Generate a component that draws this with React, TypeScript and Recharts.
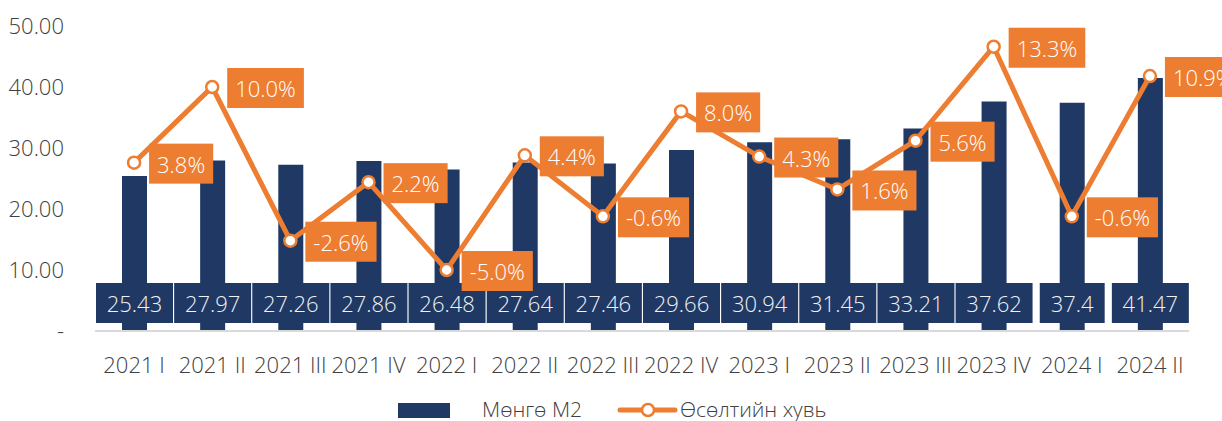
import { ComposedChart, Bar, Line, XAxis, YAxis, LabelList } from 'recharts'

const quarters = [
  '2021 I', '2021 II', '2021 III', '2021 IV',
  '2022 I', '2022 II', '2022 III', '2022 IV',
  '2023 I', '2023 II', '2023 III', '2023 IV',
  '2024 I', '2024 II',
]
const moneyM2 = [25.43, 27.97, 27.26, 27.86, 26.48, 27.64, 27.46, 29.66, 30.94, 31.45, 33.21, 37.62, 37.4, 41.47]
const growthPct = [3.8, 10.0, -2.6, 2.2, -5.0, 4.4, -0.6, 8.0, 4.3, 1.6, 5.6, 13.3, -0.6, 10.9]
const leftTicks = [0, 10, 20, 30, 40, 50]

const NAVY = '#203864'
const ORANGE = '#ED7D31'
const FONT = "'Open Sans', 'Noto Sans', sans-serif"
const FS = 22

const data = quarters.map((q, i) => ({ q, m2: moneyM2[i], g: growthPct[i] }))

let ctx: CanvasRenderingContext2D | null = null
function textWidth(s: string) {
  if (!ctx) ctx = document.createElement('canvas').getContext('2d')
  if (!ctx) return s.length * FS * 0.55
  ctx.font = `300 ${FS}px ${FONT}`
  return ctx.measureText(s).width
}

// navy value box sitting on the axis under each bar
function BarValueBox(props: any) {
  const { x, y, width, height, value } = props
  const s = String(value)
  const cx = x + width / 2
  const base = y + height
  const w = Math.min(textWidth(s) + 22, 77)
  return (
    <g>
      <rect x={cx - w / 2} y={base - 48} width={w} height={40} fill={NAVY} />
      <text x={cx} y={base - 28} textAnchor="middle" dominantBaseline="central"
        fill="#F2F2F2" fontSize={FS} fontFamily={FONT} fontWeight={300}>{s}</text>
    </g>
  )
}

// orange growth label to the right of each point
function GrowthBox(props: any) {
  const { x, y, value } = props
  const s = Number(value).toFixed(1) + '%'
  const w = textWidth(s) + 16
  return (
    <g>
      <rect x={x + 15} y={y - 19} width={w} height={40} fill={ORANGE} />
      <text x={x + 15 + w / 2} y={y + 1} textAnchor="middle" dominantBaseline="central"
        fill="#FFFFFF" fontSize={FS} fontFamily={FONT} fontWeight={300}>{s}</text>
    </g>
  )
}

const tickStyle = { fontSize: FS, fill: '#404040', fontFamily: FONT, fontWeight: 300 }
const legendText = {
  position: 'absolute' as const, top: 398, fontSize: 21, fontFamily: FONT,
  fontWeight: 300, color: '#404040', lineHeight: '22px',
}

export default function App() {
  return (
    <div style={{ position: 'absolute', left: 0, top: 0, width: 1222, height: 421, background: '#fff', overflow: 'hidden' }}>
      <ComposedChart width={1222} height={421} data={data}
        margin={{ top: 26, right: 33, left: 0, bottom: 0 }}>
        <XAxis dataKey="q" interval={0} tickSize={0} tickMargin={26} height={90}
          axisLine={{ stroke: '#D9D9D9', strokeWidth: 2 }} tick={tickStyle} />
        <YAxis yAxisId="m2" domain={[0, 50]} ticks={leftTicks} width={95}
          tickSize={0} tickMargin={31} axisLine={false} tick={tickStyle}
          tickFormatter={(v: number) => (v === 0 ? '-' : v.toFixed(2))} />
        <YAxis yAxisId="pct" orientation="right" domain={[-10, 15]} hide />
        <Bar yAxisId="m2" dataKey="m2" fill={NAVY} barSize={25} isAnimationActive={false}>
          <LabelList dataKey="m2" content={BarValueBox} />
        </Bar>
        <Line yAxisId="pct" dataKey="g" stroke={ORANGE} strokeWidth={5}
          dot={{ r: 6, fill: '#fff', stroke: ORANGE, strokeWidth: 2.5 }}
          activeDot={false} isAnimationActive={false}>
          <LabelList dataKey="g" content={GrowthBox} />
        </Line>
      </ComposedChart>
      <div style={{ position: 'absolute', left: 398, top: 403, width: 52, height: 15, background: NAVY }} />
      <div style={{ ...legendText, left: 482 }}>Мөнгө М2</div>
      <svg style={{ position: 'absolute', left: 615, top: 400 }} width={64} height={20}>
        <line x1={5} y1={10} x2={60} y2={10} stroke={ORANGE} strokeWidth={5} strokeLinecap="round" />
        <circle cx={33} cy={10} r={6} fill="#fff" stroke={ORANGE} strokeWidth={2.5} />
      </svg>
      <div style={{ ...legendText, left: 680 }}>Өсөлтийн хувь</div>
    </div>
  )
}
